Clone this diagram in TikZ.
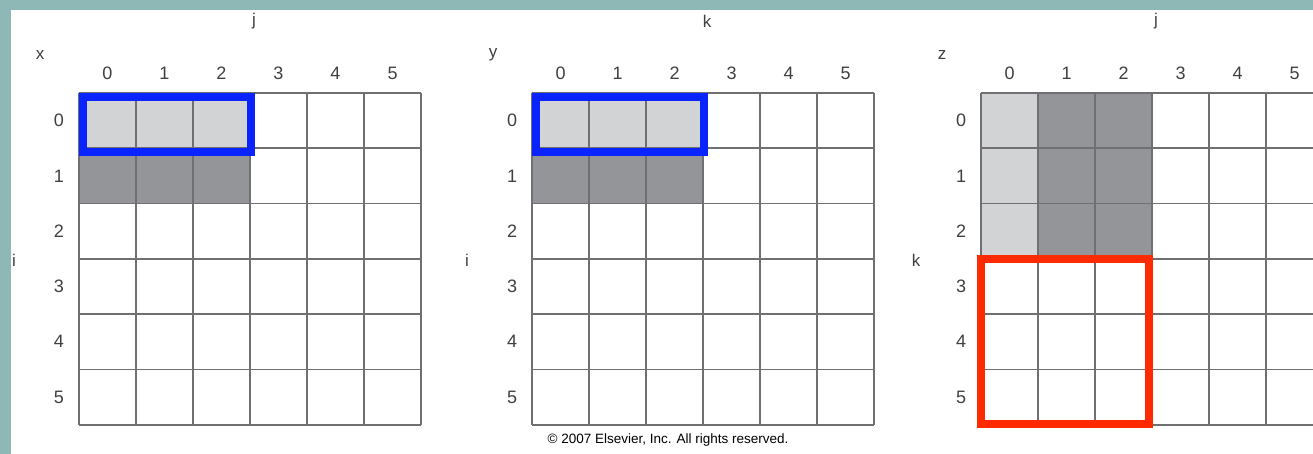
\documentclass[tikz,border=0pt]{standalone}
\usepackage{fontspec}
\setmainfont{Liberation Sans}
\definecolor{bgTeal}{HTML}{8DB8B6}
\definecolor{cellLight}{HTML}{D2D3D5}
\definecolor{cellDark}{HTML}{949598}
\definecolor{gridLine}{HTML}{707072}
\definecolor{labelGray}{HTML}{404040}
\definecolor{boxBlue}{HTML}{0A24FF}
\definecolor{boxRed}{HTML}{FF2A00}
\usetikzlibrary{positioning}

\tikzset{
  gridline/.style={gridLine, line width=1.8pt},
  idx/.style={text=labelGray, font=\fontsize{18}{20}\selectfont, inner sep=0pt},
  axis/.style={text=labelGray, font=\fontsize{17}{20}\selectfont, inner sep=0pt},
  hilite/.style={line width=8pt}
}

\begin{document}
\begin{tikzpicture}[x=1pt, y=-1pt]
  \useasboundingbox (0,0) rectangle (1313,454);
  \clip (0,0) rectangle (1313,454);
  % slide background
  \fill[bgTeal] (0,0) rectangle (1313,454);
  \fill[white] (11,10) rectangle (1313,454);
  % shaded cells: x and y (rows 0 and 1)
  \foreach \ox in {79,532}{
    \fill[cellLight] (\ox,93) rectangle ++(171,55.3);
    \fill[cellDark] (\ox,148.3) rectangle ++(171,55.3);
  }
  % shaded cells: z (columns 0 and 1-2)
  \fill[cellLight] (981,93) rectangle ++(57,165.9);
  \fill[cellDark] (1038,93) rectangle ++(114,165.9);
  % the three grids with their labels
  \foreach \ox/\nm/\top/\side [count=\g] in {79/x/j/i, 532/y/k/i, 981/z/j/k}{
    \foreach \c in {0,...,6}
      \draw[gridline] (\ox+\c*57,93) -- (\ox+\c*57,424.8);
    \foreach \r in {0,...,6}
      \draw[gridline] (\ox,93+\r*55.3) -- (\ox+342,93+\r*55.3);
    \foreach \n in {0,...,5}{
      \node[idx] (col\g-\n) at (\ox+28.5+\n*57,73) {\n};
      \node[idx] (row\g-\n) at (\ox-20,120.6+\n*55.3) {\n};
    }
    \node[axis] (name\g) at (\ox-39,55) {\nm};
    \node[axis] (top\g) at (\ox+175,21) {\top};
    \node[axis] (side\g) at (\ox-65,260) {\side};
  }
  % highlight boxes
  \draw[hilite, boxBlue] (83,97) rectangle (251,152);
  \draw[hilite, boxBlue] (536,97) rectangle (704,152);
  \draw[hilite, boxRed] (981,259) rectangle (1149,423.5);
  % credit line
  \node[text=black, font=\fontsize{13.5}{15}\selectfont, inner sep=0pt] (credit)
       at (668,440) {© 2007 Elsevier, Inc. All rights reserved.};
\end{tikzpicture}
\end{document}
